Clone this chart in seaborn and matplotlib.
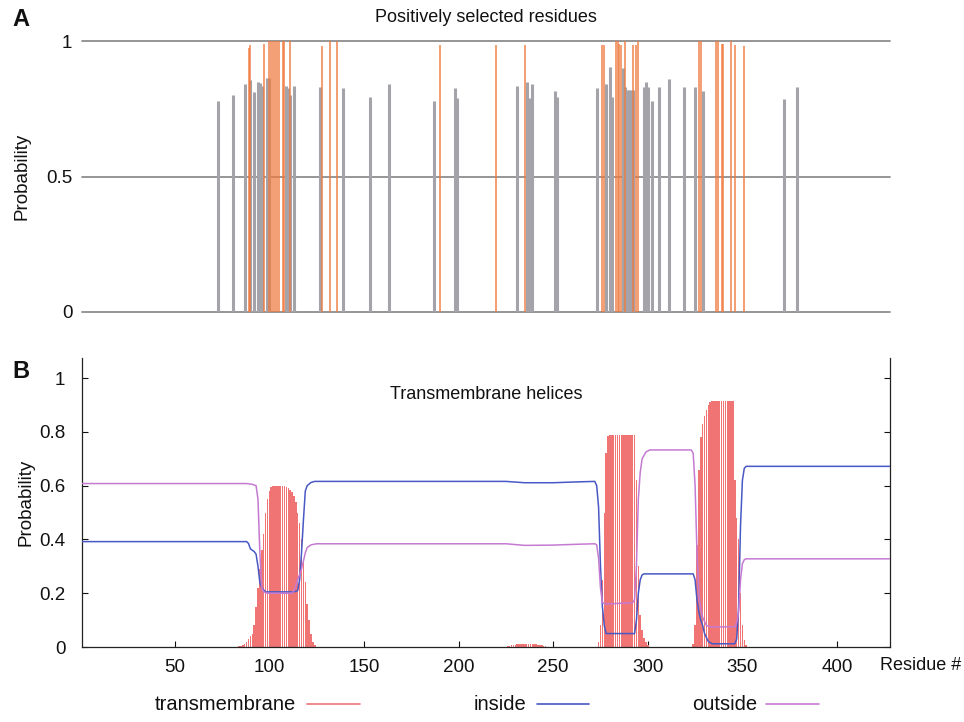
import numpy as np
import pandas as pd
import matplotlib
matplotlib.use("Agg")
import matplotlib.pyplot as plt
import seaborn as sns
from matplotlib.lines import Line2D

sns.set_theme(style="white")
plt.rcParams["font.family"] = ["Liberation Sans", "DejaVu Sans"]

# ---------------- Panel A data: positively selected residues ----------------
gray_res = [73, 81, 87, 90, 92, 94, 95, 96, 99, 100, 109, 110, 111, 113,
            127, 139, 153, 163, 187, 198, 199, 231, 236, 238, 239, 251, 252,
            273, 278, 280, 281, 287, 288, 289, 290, 291, 292, 298, 299, 300,
            302, 306, 311, 319, 325, 329, 372, 379]
gray_prob = [0.78, 0.80, 0.84, 0.855, 0.81, 0.85, 0.845, 0.835, 0.865, 0.865,
             0.835, 0.825, 0.80, 0.835, 0.83, 0.825, 0.795, 0.84, 0.78, 0.825,
             0.79, 0.835, 0.85, 0.79, 0.84, 0.815, 0.795, 0.825, 0.84, 0.905,
             0.795, 0.90, 0.83, 0.82, 0.82, 0.82, 0.82, 0.83, 0.85, 0.83,
             0.78, 0.83, 0.86, 0.83, 0.83, 0.815, 0.785, 0.83]
orange_res = [89, 90, 97, 100, 101, 102, 103, 104, 105, 107, 108, 111, 128,
              132, 136, 190, 220, 235, 276, 277, 283, 284, 285, 286, 288, 292,
              294, 295, 327, 328, 336, 337, 339, 340, 344, 346, 351]
orange_prob = [0.975, 0.985, 0.99, 1.0, 1.0, 1.0, 1.0, 1.0, 1.0, 1.0, 1.0,
               1.0, 0.98, 1.0, 1.0, 0.985, 0.985, 0.985, 0.985, 0.985, 1.0,
               1.0, 0.99, 0.985, 1.0, 0.985, 0.985, 1.0, 1.0, 1.0, 1.0, 1.0,
               0.99, 0.99, 1.0, 0.985, 0.98]

# ---------------- Panel B data: transmembrane helices ----------------
tm_res = (list(range(84, 125)) + list(range(226, 247)) +
          list(range(274, 301)) + list(range(324, 353)))
tm_prob = [
    # 84-124
    0.003, 0.005, 0.008, 0.012, 0.02, 0.03, 0.04, 0.05, 0.08, 0.15,
    0.22, 0.29, 0.36, 0.42, 0.50, 0.55, 0.58, 0.595, 0.60, 0.60,
    0.60, 0.60, 0.60, 0.60, 0.598, 0.595, 0.59, 0.585, 0.575, 0.56,
    0.54, 0.50, 0.46, 0.40, 0.32, 0.24, 0.16, 0.10, 0.05, 0.02,
    0.006,
    # 226-246
    0.003, 0.005, 0.007, 0.008, 0.009, 0.01, 0.01, 0.01, 0.01, 0.01,
    0.01, 0.01, 0.01, 0.01, 0.01, 0.01, 0.009, 0.008, 0.007, 0.005,
    0.003,
    # 274-300
    0.02, 0.08, 0.25, 0.50, 0.72, 0.785, 0.79, 0.79, 0.79, 0.79,
    0.79, 0.79, 0.79, 0.79, 0.79, 0.79, 0.79, 0.79, 0.79, 0.79,
    0.62, 0.30, 0.12, 0.065, 0.035, 0.02, 0.008,
    # 324-352
    0.01, 0.08, 0.38, 0.66, 0.78, 0.83, 0.86, 0.88, 0.90, 0.91,
    0.915, 0.915, 0.915, 0.915, 0.915, 0.915, 0.915, 0.915, 0.915, 0.915,
    0.915, 0.915, 0.62, 0.48, 0.40, 0.20, 0.08, 0.025, 0.008,
]

inside_res = [1, 88, 89, 90, 92, 93, 94, 95, 96, 98, 112, 114, 115, 116, 117,
              118, 119, 120, 122, 124, 225, 235, 250, 262, 272, 273, 274, 275,
              276, 277, 278, 293, 294, 295, 296, 297, 298, 324, 325, 326, 327,
              328, 329, 330, 332, 334, 346, 347, 348, 349, 350, 351, 352, 428]
inside_prob = [0.392, 0.392, 0.385, 0.365, 0.355, 0.345, 0.30, 0.24, 0.22,
               0.205, 0.205, 0.207, 0.21, 0.25, 0.35, 0.47, 0.58, 0.60, 0.612,
               0.616, 0.616, 0.611, 0.611, 0.614, 0.616, 0.60, 0.52, 0.30,
               0.15, 0.08, 0.05, 0.05, 0.10, 0.20, 0.25, 0.268, 0.272, 0.272,
               0.25, 0.175, 0.13, 0.10, 0.08, 0.05, 0.02, 0.012, 0.012, 0.03,
               0.15, 0.45, 0.62, 0.665, 0.672, 0.672]

outside_res = [1, 88, 91, 93, 94, 95, 96, 97, 99, 112, 113, 114, 115, 116,
               117, 118, 119, 120, 122, 125, 225, 235, 250, 262, 272, 273, 274,
               275, 276, 278, 292, 293, 294, 295, 296, 297, 299, 301, 323, 324,
               325, 326, 327, 328, 329, 331, 333, 346, 347, 348, 349, 350, 351,
               352, 428]
outside_prob = [0.608, 0.608, 0.605, 0.60, 0.55, 0.35, 0.22, 0.205, 0.20,
                0.20, 0.21, 0.23, 0.25, 0.27, 0.29, 0.32, 0.35, 0.37, 0.38,
                0.384, 0.384, 0.378, 0.379, 0.382, 0.384, 0.38, 0.33, 0.22,
                0.165, 0.16, 0.165, 0.175, 0.30, 0.55, 0.65, 0.70, 0.725,
                0.733, 0.733, 0.72, 0.60, 0.35, 0.20, 0.14, 0.11, 0.08, 0.075,
                0.075, 0.09, 0.13, 0.25, 0.31, 0.325, 0.328, 0.328]

x_ticks = [50, 100, 150, 200, 250, 300, 350, 400]
yB_ticks = [0, 0.2, 0.4, 0.6, 0.8, 1]
yB_labels = ["0", "0.2", "0.4", "0.6", "0.8", "1"]
yA_ticks = [0, 0.5, 1]
yA_labels = ["0", "0.5", "1"]

legend_labels = ["transmembrane", "inside", "outside"]

C_GRAY = "#a3a3a9"
C_ORANGE = "#f07a3e"
C_TM = "#f07474"
C_IN = "#4858c4"
C_OUT = "#c57ad2"
TXT = "#111111"

W, H = 964, 722
fig = plt.figure(figsize=(W / 100, H / 100), dpi=100)
fig.patch.set_facecolor("white")

XL, XR = 82, 890
axA = fig.add_axes([XL / W, 1 - 312 / H, (XR - XL) / W, 271 / H])
axB = fig.add_axes([XL / W, 1 - 647 / H, (XR - XL) / W, 289 / H])

# ---------------- Panel A ----------------
xmin, xmax = 1, 428
for yv in yA_ticks:
    axA.axhline(yv, color="#8e8e8e", lw=1.3, zorder=0, clip_on=False)
axA.vlines(gray_res, 0, gray_prob, color=C_GRAY, lw=2.2, zorder=2)
axA.vlines(orange_res, 0, orange_prob, color=C_ORANGE, lw=1.2, alpha=0.85, zorder=3)
axA.set_xlim(xmin, xmax)
axA.set_ylim(0, 1)
for s in axA.spines.values():
    s.set_visible(False)
axA.set_xticks([])
axA.set_yticks(yA_ticks)
axA.set_yticklabels(yA_labels)
axA.tick_params(axis="y", length=0, pad=7, labelsize=13.5, colors=TXT)
axA.set_ylabel("Probability", fontsize=13.5, color=TXT)
axA.yaxis.set_label_coords((31 - XL) / (XR - XL), 0.5)
axA.set_facecolor("white")

# ---------------- Panel B ----------------
sns.barplot(x=tm_res, y=tm_prob, native_scale=True, width=0.8, color=C_TM,
            saturation=1, linewidth=0, ax=axB, zorder=1)
sns.lineplot(x=inside_res, y=inside_prob, color=C_IN, lw=1.1, ax=axB, zorder=3)
sns.lineplot(x=outside_res, y=outside_prob, color=C_OUT, lw=1.1, ax=axB, zorder=3)
axB.set_xlim(xmin, xmax)
axB.set_ylim(0, 1.075)
axB.set_xticks(x_ticks)
axB.set_xticklabels([str(t) for t in x_ticks])
axB.set_yticks(yB_ticks)
axB.set_yticklabels(yB_labels)
axB.spines["top"].set_visible(False)
for k in ["left", "right", "bottom"]:
    axB.spines[k].set_color("#222222")
    axB.spines[k].set_linewidth(0.9)
axB.tick_params(direction="in", length=4, width=0.8, left=True, right=True,
                bottom=True, top=False, labelsize=13.5, colors=TXT)
axB.tick_params(axis="y", pad=12)
axB.tick_params(axis="x", pad=9)
axB.set_xlabel("")
axB.set_ylabel("Probability", fontsize=13.5, color=TXT)
axB.yaxis.set_label_coords((34 - XL) / (XR - XL), 0.5)
axB.text(0.5, 0.875, "Transmembrane helices", transform=axB.transAxes,
         ha="center", va="center", fontsize=13, color=TXT)
axB.set_facecolor("white")

# ---------------- Figure texts ----------------
fig.text(486 / W, 1 - 18 / H, "Positively selected residues", ha="center",
         va="center", fontsize=13, color=TXT)
fig.text(12 / W, 1 - 19 / H, "A", ha="left", va="center", fontsize=17,
         fontweight="bold", color=TXT)
fig.text(12 / W, 1 - 371 / H, "B", ha="left", va="center", fontsize=17,
         fontweight="bold", color=TXT)
fig.text(880 / W, 1 - 666 / H, "Residue #", ha="left", va="center",
         fontsize=13, color=TXT)

# legend (gnuplot style: label then line sample)
leg_colors = [C_TM, C_IN, C_OUT]
leg_text_right = [296, 526, 757]
leg_line = [(307, 360), (537, 589), (766, 819)]
ly = 1 - 704 / H
for lab, col, tr, (l0, l1) in zip(legend_labels, leg_colors, leg_text_right, leg_line):
    fig.text(tr / W, ly, lab, ha="right", va="center", fontsize=14.5, color=TXT)
    fig.add_artist(Line2D([l0 / W, l1 / W], [ly, ly], color=col, lw=1.2,
                          transform=fig.transFigure))

fig.savefig("out.png", dpi=100, facecolor="white")
